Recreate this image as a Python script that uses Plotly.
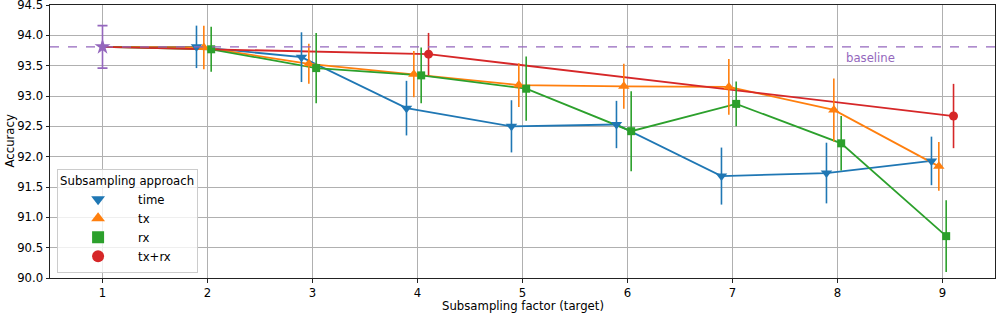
import plotly.graph_objects as go

factors = [2, 3, 4, 5, 6, 7, 8, 9]
baseline_acc = 93.81
baseline_err = 0.35

time_acc = [93.81, 93.64, 92.80, 92.50, 92.53, 91.68, 91.73, 91.93]
time_err = [0.35, 0.41, 0.45, 0.43, 0.39, 0.47, 0.50, 0.40]
tx_acc = [93.80, 93.53, 93.36, 93.18, 93.16, 93.15, 92.77, 91.84]
tx_err = [0.36, 0.33, 0.38, 0.36, 0.37, 0.46, 0.52, 0.40]
rx_acc = [93.77, 93.46, 93.34, 93.12, 92.42, 92.87, 92.22, 90.69]
rx_err = [0.37, 0.58, 0.46, 0.53, 0.66, 0.37, 0.45, 0.59]
txrx_factors = [4, 9]
txrx_acc = [93.69, 92.67]
txrx_err = [0.35, 0.53]

series = [
    ("time", factors, time_acc, time_err, "#1f77b4", "triangle-down", 10, -0.105),
    ("tx", factors, tx_acc, tx_err, "#ff7f0e", "triangle-up", 10, -0.035),
    ("rx", factors, rx_acc, rx_err, "#2ca02c", "square", 8, 0.035),
    ("tx+rx", txrx_factors, txrx_acc, txrx_err, "#d62728", "circle", 9, 0.105),
]

FONT = "DejaVu Sans"
FS = 11.7
fig = go.Figure()

for name, xs, ys, es, col, sym, sz, off in series:
    xo = [x + off for x in xs]
    fig.add_trace(go.Scatter(
        x=[1] + xo, y=[baseline_acc] + ys, mode="lines",
        line=dict(color=col, width=1.8), showlegend=False, hoverinfo="skip"))
for name, xs, ys, es, col, sym, sz, off in series:
    xo = [x + off for x in xs]
    fig.add_trace(go.Scatter(
        x=xo, y=ys, mode="markers", name=name,
        marker=dict(color=col, symbol=sym, size=sz, line=dict(width=0)),
        error_y=dict(type="data", array=es, visible=True, color=col,
                     thickness=1.6, width=0)))

fig.add_trace(go.Scatter(
    x=[1], y=[baseline_acc], mode="markers", showlegend=False,
    marker=dict(color="#9467bd", symbol="star", size=12, line=dict(width=0)),
    error_y=dict(type="data", array=[baseline_err], visible=True,
                 color="#9467bd", thickness=1.6, width=5)))

fig.add_shape(type="line", xref="paper", x0=0, x1=1, yref="y",
              y0=baseline_acc, y1=baseline_acc,
              line=dict(color="#9467bd", width=1.4, dash="dash"))
fig.add_annotation(x=8.06, y=baseline_acc - 0.04, xref="x", yref="y",
                   text="baseline", showarrow=False, xanchor="left",
                   yanchor="top", font=dict(color="#9467bd", size=FS, family=FONT))

# axis titles as annotations
fig.add_annotation(x=0.5, y=0, xref="paper", yref="paper", yshift=-19,
                   text="Subsampling factor (target)", showarrow=False,
                   xanchor="center", yanchor="top",
                   font=dict(size=FS, family=FONT, color="black"))
fig.add_annotation(x=0, y=0.5, xref="paper", yref="paper", xshift=-50,
                   text="Accuracy", showarrow=False, textangle=-90,
                   xanchor="left", yanchor="middle",
                   font=dict(size=FS, family=FONT, color="black"))

axis_common = dict(showgrid=True, gridcolor="#b0b0b0", gridwidth=1,
                   showline=True, linecolor="#222222", linewidth=1, mirror=True,
                   ticks="outside", ticklen=3.5, tickcolor="#222222",
                   zeroline=False, automargin=False, ticklabeloverflow="allow",
                   tickfont=dict(size=FS, family=FONT, color="black"))

fig.update_layout(
    width=996, height=314,
    margin=dict(l=50, r=1, t=5, b=36),
    plot_bgcolor="white", paper_bgcolor="white",
    font=dict(family=FONT, size=FS, color="black"),
    xaxis=dict(range=[0.5, 9.5], tickvals=list(range(1, 10)), **axis_common),
    yaxis=dict(range=[90.0, 94.5], tickvals=[90 + 0.5 * i for i in range(10)],
               tickformat=".1f", **axis_common),
    legend=dict(x=0.0075, y=0.02, xanchor="left", yanchor="bottom",
                bgcolor="rgba(255,255,255,0.8)", bordercolor="#cccccc",
                borderwidth=1, title=dict(text="Subsampling approach", font=dict(size=FS)),
                font=dict(size=FS), tracegroupgap=0, itemsizing="constant",
                itemwidth=70),
    showlegend=True,
)

fig.write_html("out.html", config={"displayModeBar": False},
               post_script="document.body.style.margin='0';document.body.style.overflow='hidden';")
